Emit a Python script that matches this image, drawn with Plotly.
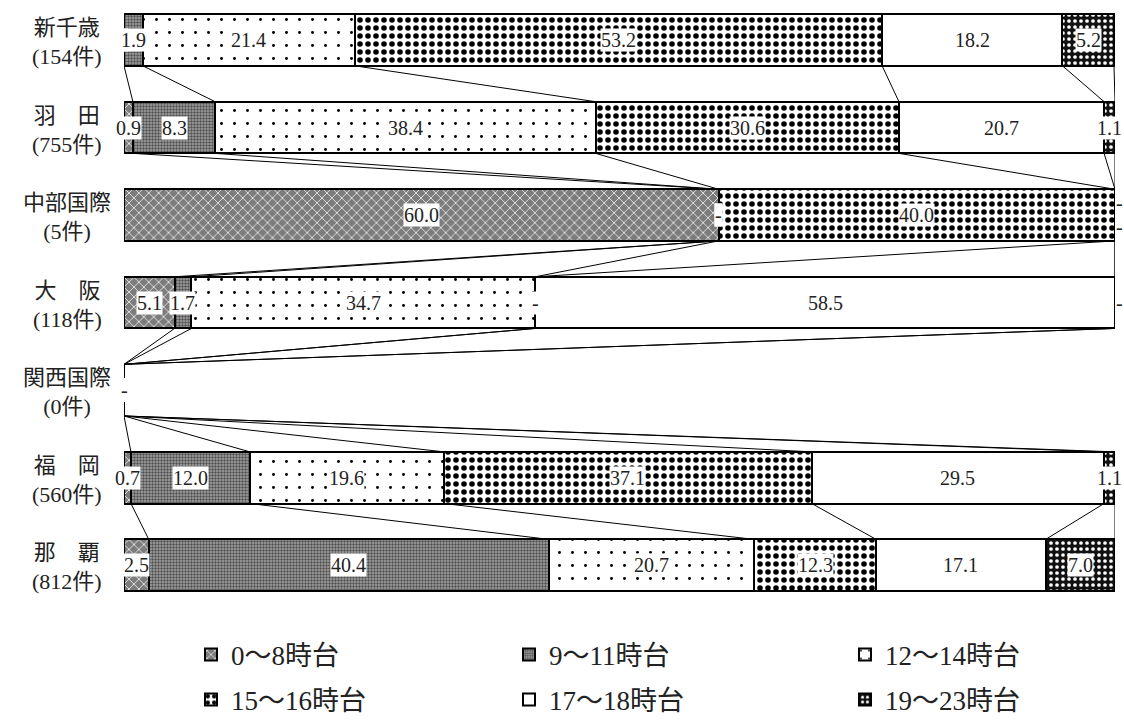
import plotly.graph_objects as go

AIRPORTS = ["新千歳", "羽　田", "中部国際", "大　阪", "関西国際", "福　岡", "那　覇"]
COUNTS = [154, 755, 5, 118, 0, 560, 812]
HOUR_BANDS = ["0～8時台", "9～11時台", "12～14時台", "15～16時台", "17～18時台", "19～23時台"]

SHARE_0_8 = [0.0, 0.9, 60.0, 5.1, 0.0, 0.7, 2.5]
SHARE_9_11 = [1.9, 8.3, 0.0, 1.7, 0.0, 12.0, 40.4]
SHARE_12_14 = [21.4, 38.4, 0.0, 34.7, 0.0, 19.6, 20.7]
SHARE_15_16 = [53.2, 30.6, 40.0, 0.0, 0.0, 37.1, 12.3]
SHARE_17_18 = [18.2, 20.7, 0.0, 58.5, 0.0, 29.5, 17.1]
SHARE_19_23 = [5.2, 1.1, 0.0, 0.0, 0.0, 1.1, 7.0]

SHARES = [SHARE_0_8, SHARE_9_11, SHARE_12_14, SHARE_15_16, SHARE_17_18, SHARE_19_23]

FONT = "Liberation Serif, Noto Sans CJK JP, serif"
BAR_WIDTH = 0.59

BAND_STYLES = [
    {"color": "#7c7c7c", "pattern": {"shape": "x", "fgcolor": "#ffffff", "fgopacity": 0.9, "size": 7, "solidity": 0.22, "fillmode": "overlay"}},
    {"color": "#a6a6a6", "pattern": {"shape": ".", "fgcolor": "#505050", "fgopacity": 1, "size": 3, "solidity": 0.5, "fillmode": "overlay"}},
    {"color": "#ffffff", "pattern": {"shape": ".", "fgcolor": "#000000", "fgopacity": 1, "size": 13, "solidity": 0.04, "fillmode": "overlay"}},
    {"color": "#ffffff", "pattern": {"shape": ".", "fgcolor": "#000000", "fgopacity": 1, "size": 8, "solidity": 0.38, "fillmode": "overlay"}},
    {"color": "#ffffff", "pattern": {"shape": ""}},
    {"color": "#111111", "pattern": {"shape": ".", "fgcolor": "#ffffff", "fgopacity": 1, "size": 6, "solidity": 0.3, "fillmode": "overlay"}},
]

# legend slots (container px): symbol left x, row centre y
LEGEND_SLOTS = [(210, 655), (528, 655), (864, 655), (210, 700), (528, 700), (864, 700)]

fig = go.Figure()
for k, band in enumerate(HOUR_BANDS):
    legend_name = "legend" if k == 0 else f"legend{k + 1}"
    fig.add_trace(
        go.Bar(
            name=band,
            y=AIRPORTS,
            x=SHARES[k],
            orientation="h",
            width=BAR_WIDTH,
            marker={**BAND_STYLES[k], "line": {"color": "#000000", "width": 2}},
            legend=legend_name,
            showlegend=True,
            hoverinfo="skip",
        )
    )

# cumulative boundaries per airport
cums = []
for i in range(len(AIRPORTS)):
    c = [0.0]
    for k in range(len(HOUR_BANDS)):
        c.append(c[-1] + SHARES[k][i])
    cums.append(c)

# series lines between neighbouring bars
half = BAR_WIDTH / 2
for i in range(len(AIRPORTS) - 1):
    for k in range(1, len(HOUR_BANDS) + 1):
        fig.add_shape(
            type="line",
            xref="x", yref="y",
            x0=min(cums[i][k], 100), y0=i + half,
            x1=min(cums[i + 1][k], 100), y1=i + 1 - half,
            line={"color": "#000000", "width": 1},
        )

# value labels
for i, airport in enumerate(AIRPORTS):
    last_nonzero = max([k for k in range(len(HOUR_BANDS)) if SHARES[k][i] > 0], default=-1)
    trailing = [k for k in range(last_nonzero + 1, len(HOUR_BANDS))]
    for k in range(len(HOUR_BANDS)):
        v = SHARES[k][i]
        yshift = 0
        xshift = 0
        if v == 0 and len(trailing) == 2 and k in trailing:
            yshift = 12 if trailing.index(k) == 0 else -12
        if v == 0 and cums[i][k] >= 100:
            xshift = 4
        fig.add_annotation(
            x=cums[i][k] + v / 2,
            y=i,
            xref="x", yref="y",
            text=f"{v:.1f}" if v > 0 else "-",
            showarrow=False,
            bgcolor="#ffffff",
            borderpad=0,
            xshift=xshift,
            yshift=yshift,
            font={"family": FONT, "size": 20, "color": "#222222"},
        )

# airport labels
for i, airport in enumerate(AIRPORTS):
    fig.add_annotation(
        x=-0.0575, y=i,
        xref="paper", yref="y",
        text=f"{airport}<br>({COUNTS[i]}件)",
        showarrow=False,
        align="center",
        xanchor="center",
        yshift=-2,
        font={"family": FONT, "size": 22, "color": "#222222"},
    )

W, H = 1124, 722
layout_legends = {}
for k, (sx, sy) in enumerate(LEGEND_SLOTS):
    key = "legend" if k == 0 else f"legend{k + 1}"
    layout_legends[key] = {
        "xref": "container", "yref": "container",
        "x": (sx - 19) / W, "y": 1 - sy / H,
        "xanchor": "left", "yanchor": "middle",
        "orientation": "h",
        "font": {"family": FONT, "size": 27, "color": "#222222"},
        "bgcolor": "rgba(0,0,0,0)",
        "itemwidth": 30,
    }

fig.update_layout(
    barmode="stack",
    width=W, height=H,
    showlegend=True,
    margin={"l": 124, "r": 9, "t": 0, "b": 113},
    paper_bgcolor="#ffffff",
    plot_bgcolor="#ffffff",
    font={"family": FONT, "color": "#222222"},
    **layout_legends,
)
fig.update_xaxes(range=[0, 100], visible=False, showgrid=False, zeroline=False)
fig.update_yaxes(
    type="category",
    categoryorder="array",
    categoryarray=AIRPORTS,
    range=[6.5, -0.457],
    showticklabels=False,
    showgrid=False,
    zeroline=False,
    showline=False,
    ticks="",
)

fig.write_html(
    "out.html",
    config={"displayModeBar": False},
    post_script="document.body.style.margin = '0';",
)
